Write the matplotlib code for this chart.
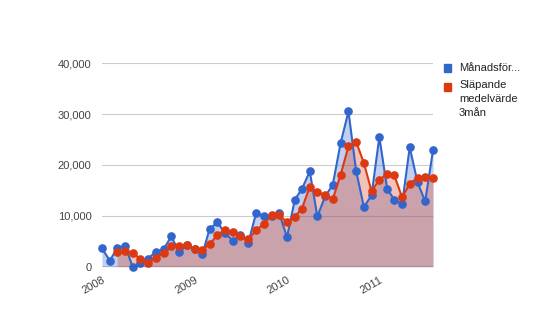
import numpy as np
import pandas as pd
import matplotlib
matplotlib.use('Agg')
import matplotlib.pyplot as plt
import matplotlib.dates as mdates
from matplotlib.patches import Rectangle


# månadsdata jan 2008 - aug 2011
manader = pd.date_range('2008-01-01', periods=44, freq='MS')

manadsforsaljning = [
    3600, 1180, 3680, 4130, 0, 700, 1600, 2950, 3480, 5960, 2810, 4220,
    3410, 2500, 7410, 8710, 6630, 5110, 6290, 4660, 10560, 10030, 9900, 10560,
    5800, 13180, 15280, 18740, 9890, 13830, 16130, 24330, 30540, 18880, 11740, 14020,
    25510, 15280, 13180, 12390, 23460, 16580, 12840, 22870,
]

slapande_medel = [
    np.nan, np.nan, 2820, 3000, 2600, 1610, 770, 1750, 2680, 4130, 4080, 4330,
    3480, 3380, 4440, 6210, 7280, 6820, 6010, 5350, 7170, 8420, 10090, 10160,
    8750, 9850, 11420, 15730, 14640, 14150, 13280, 18100, 23670, 24580, 20390, 14880,
    17090, 18270, 17990, 13620, 16340, 17480, 17630, 17430,
]

y_ticks = [0, 10000, 20000, 30000, 40000]
y_labels = ['0', '10,000', '20,000', '30,000', '40,000']
x_ticks = pd.to_datetime(['2008-01-01', '2009-01-01', '2010-01-01', '2011-01-01'])
x_labels = ['2008', '2009', '2010', '2011']

BLA = '#3366cc'
ROD = '#dc3912'

plt.rcParams['font.family'] = ['Liberation Sans', 'DejaVu Sans']

fig = plt.figure(figsize=(5.35, 3.3), dpi=100)
ax = fig.add_axes([102 / 535, 1 - 266.7 / 330, 331 / 535, 203.4 / 330])

# ytor först, sedan linjer med punkter
ax.fill_between(manader, 0, manadsforsaljning, color=BLA, alpha=0.3, lw=0, zorder=2)
ax.fill_between(manader, 0, slapande_medel, color=ROD, alpha=0.3, lw=0, zorder=3)
ax.plot(manader, manadsforsaljning, color=BLA, lw=1.5, marker='o', ms=5.2,
        clip_on=False, zorder=4)
ax.plot(manader, slapande_medel, color=ROD, lw=1.5, marker='o', ms=5.2,
        clip_on=False, zorder=5)

ax.set_xlim(manader[0], manader[-1])
ax.set_ylim(0, 40000)

ax.set_yticks(y_ticks)
ax.set_yticklabels(y_labels, fontsize=8, color='#444444')
ax.set_xticks(x_ticks)
ax.set_xticklabels(x_labels, fontsize=8, color='#444444', rotation=30,
                   ha='right', rotation_mode='anchor')
ax.tick_params(axis='both', length=0)
ax.tick_params(axis='y', pad=7.5)
ax.tick_params(axis='x', pad=6)

for v in y_ticks[1:]:
    ax.axhline(v, color='#cccccc', lw=0.8, zorder=1)
ax.axhline(0, color='#333333', lw=1.0, zorder=6)

for s in ax.spines.values():
    s.set_visible(False)

# legend till höger
fig.patches.append(Rectangle((444 / 535, 1 - 72 / 330), 7 / 535, 8 / 330,
                             transform=fig.transFigure, color=BLA))
fig.patches.append(Rectangle((444 / 535, 1 - 91 / 330), 7 / 535, 8 / 330,
                             transform=fig.transFigure, color=ROD))
fig.text(459 / 535, 1 - 68 / 330, 'Månadsför...', fontsize=8, color='#222222', va='center')
fig.text(459 / 535, 1 - 85 / 330, 'Släpande', fontsize=8, color='#222222', va='center')
fig.text(459 / 535, 1 - 99 / 330, 'medelvärde', fontsize=8, color='#222222', va='center')
fig.text(459 / 535, 1 - 113 / 330, '3mån', fontsize=8, color='#222222', va='center')

fig.savefig('out.png', dpi=100, facecolor='white')
